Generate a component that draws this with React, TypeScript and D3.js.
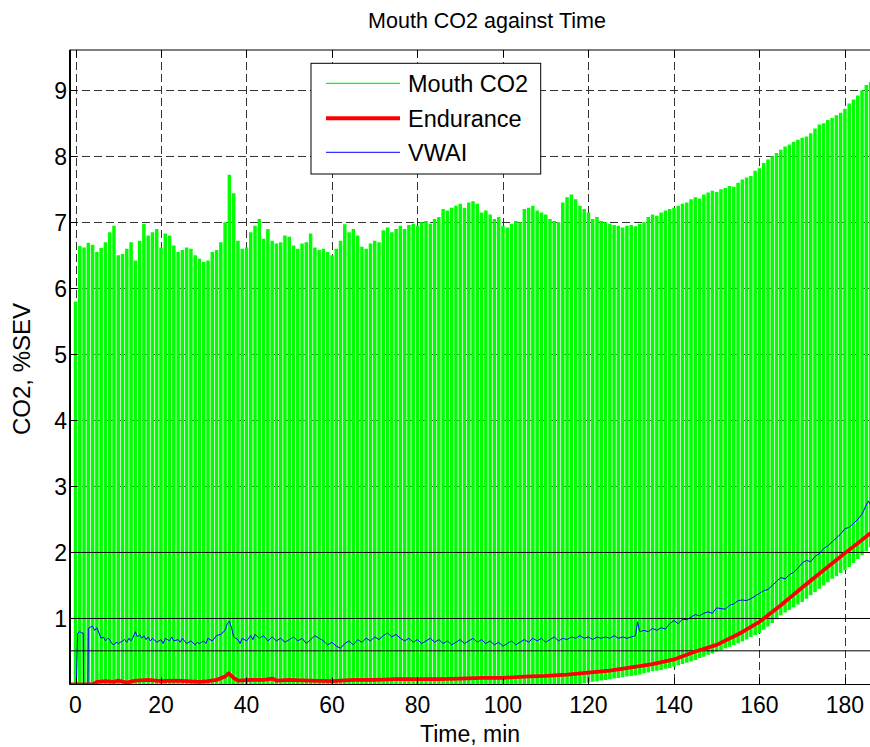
import React from "react";
import * as d3 from "d3";

// ---- chart data ----
const titleText = "Mouth CO2 against Time";
const xLabel = "Time, min";
const yLabel = "CO2, %SEV";
const xTicks = [0, 20, 40, 60, 80, 100, 120, 140, 160, 180];
const yTicks = [1, 2, 3, 4, 5, 6, 7, 8, 9];
const refLines = [0.51, 1, 2];
const seriesNames = ["Mouth CO2", "Endurance", "VWAI"];
const seriesColors = ["#00ff00", "#ff0000", "#0000ff"];

// Mouth CO2: breath peak and trough per minute, t = 0..186 min
const co2StartMin = 0;
const co2Peaks = [
  5.8, 6.64, 6.62, 6.69, 6.66, 6.55, 6.61, 6.7, 6.85, 6.95,
  6.5, 6.52, 6.6, 6.7, 6.42, 6.72, 6.98, 6.8, 6.85, 6.9,
  6.62, 6.83, 6.8, 6.65, 6.55, 6.58, 6.62, 6.6, 6.5, 6.45,
  6.4, 6.42, 6.55, 6.58, 6.7, 7.0, 7.72, 7.44, 6.72, 6.6,
  6.62, 6.85, 6.95, 7.05, 6.75, 6.9, 6.72, 6.68, 6.7, 6.8,
  6.78, 6.65, 6.6, 6.68, 6.7, 6.83, 6.62, 6.58, 6.6, 6.55,
  6.5, 6.6, 6.72, 6.97, 6.85, 6.9, 6.8, 6.63, 6.6, 6.68,
  6.72, 6.7, 6.88, 6.92, 6.85, 6.9, 6.95, 6.9, 6.96, 6.98,
  6.95, 7.0, 7.02, 6.98, 7.05, 7.08, 7.2, 7.18, 7.22, 7.25,
  7.28, 7.22, 7.3, 7.32, 7.28, 7.15, 7.18, 7.12, 7.05, 7.08,
  6.95, 6.92, 6.98, 7.02, 7.0, 7.2, 7.22, 7.25, 7.18, 7.15,
  7.12, 7.05, 7.02, 7.0, 7.3, 7.38, 7.42, 7.35, 7.25, 7.2,
  7.15, 7.05, 7.08, 7.02, 7.0, 6.98, 6.96, 6.95, 6.92, 6.95,
  6.96, 6.94, 6.98, 7.0, 7.08, 7.12, 7.1, 7.15, 7.18, 7.2,
  7.22, 7.25, 7.28, 7.3, 7.35, 7.38, 7.36, 7.42, 7.45, 7.48,
  7.46, 7.5, 7.52, 7.55, 7.54, 7.6, 7.65, 7.68, 7.7, 7.78,
  7.82, 7.9, 7.95, 8.0, 8.05, 8.1, 8.15, 8.18, 8.22, 8.25,
  8.28, 8.3, 8.35, 8.42, 8.48, 8.5, 8.55, 8.58, 8.62, 8.66,
  8.72, 8.8, 8.86, 8.92, 9.0, 9.08, 9.12,
];
const co2Troughs = [
  0, 0, 0, 0, 0, 0, 0, 0, 0, 0,
  0, 0, 0, 0, 0, 0, 0, 0, 0, 0,
  0, 0, 0, 0, 0, 0, 0, 0, 0, 0,
  0, 0, 0, 0, 0, 0, 0, 0, 0, 0,
  0, 0, 0, 0, 0, 0, 0, 0, 0, 0,
  0, 0, 0, 0, 0, 0, 0, 0, 0, 0,
  0, 0, 0, 0, 0, 0, 0, 0, 0, 0,
  0, 0, 0, 0, 0, 0, 0, 0, 0, 0,
  0, 0, 0, 0, 0, 0, 0, 0, 0, 0,
  0, 0, 0, 0, 0, 0, 0, 0, 0, 0,
  0, 0, 0, 0, 0, 0, 0, 0, 0, 0,
  0, 0, 0, 0, 0, 0, 0, 0, 0, 0.02,
  0.03, 0.04, 0.05, 0.06, 0.07, 0.08, 0.09, 0.1, 0.11, 0.12,
  0.13, 0.14, 0.15, 0.17, 0.18, 0.2, 0.21, 0.22, 0.24, 0.25,
  0.27, 0.29, 0.31, 0.33, 0.35, 0.37, 0.4, 0.42, 0.45, 0.47,
  0.5, 0.52, 0.55, 0.57, 0.6, 0.62, 0.65, 0.68, 0.72, 0.75,
  0.78, 0.83, 0.88, 0.93, 0.99, 1.05, 1.09, 1.13, 1.17, 1.21,
  1.25, 1.3, 1.35, 1.4, 1.45, 1.5, 1.55, 1.6, 1.64, 1.69,
  1.73, 1.78, 1.84, 1.9, 1.96, 2.02, 2.08,
];

// Endurance
const enduranceT = [
  -1.3, 4, 5, 7, 9, 10, 12, 14, 17, 20, 23, 26, 29, 31, 33, 35, 35.8, 37, 38,
  41, 44, 46, 47, 50, 55, 60, 65, 70, 75, 80, 85, 90, 95, 100, 105, 110, 115,
  120, 125, 130, 135, 140, 145, 150, 155, 160, 165, 170, 175, 180, 183, 186.1,
];
const enduranceV = [
  0, 0, 0.04, 0.05, 0.04, 0.06, 0.03, 0.06, 0.07, 0.05, 0.06, 0.05, 0.04, 0.05, 0.07, 0.12, 0.17, 0.1, 0.06,
  0.07, 0.07, 0.09, 0.06, 0.07, 0.06, 0.05, 0.07, 0.07, 0.08, 0.08, 0.08, 0.09, 0.1, 0.1, 0.12, 0.13, 0.15,
  0.18, 0.21, 0.26, 0.31, 0.38, 0.5, 0.6, 0.76, 0.95, 1.2, 1.47, 1.73, 1.99, 2.14, 2.3,
];

// VWAI
const vwaiT = [
  -1.3, 0.2, 0.5, 1, 1.5, 1.8, 1.9, 2.9, 3, 3.5, 4, 4.5, 5, 5.5, 6, 6.5, 7, 7.5, 8, 8.5,
  9, 9.5, 10, 11, 11.5, 12, 12.5, 13, 13.5, 14, 14.5, 15, 15.5, 16, 16.5, 17, 17.5, 18, 19, 20,
  20.5, 21, 22, 22.5, 23, 24, 24.5, 25, 26, 27, 28, 28.5, 29, 30, 30.5, 31, 32, 33, 34, 35,
  35.5, 36, 36.5, 37, 38, 38.5, 39, 40, 41, 41.5, 42, 43, 44, 45, 46, 47, 48, 49, 50, 51,
  52, 53, 54, 55, 56, 57, 58, 59, 60, 61, 62, 63, 64, 65, 66, 67, 68, 69, 70, 71,
  72, 73, 74, 75, 76, 77, 78, 79, 80, 81, 82, 83, 84, 85, 86, 87, 88, 89, 90, 91,
  92, 93, 94, 95, 96, 97, 98, 99, 100, 101, 102, 103, 104, 105, 106, 107, 108, 109, 110, 111,
  112, 113, 114, 115, 116, 117, 118, 119, 120, 121, 122, 123, 124, 125, 126, 127, 128, 129, 130, 131,
  131.5, 132, 133, 134, 135, 136, 137, 138, 139, 140, 141, 142, 143, 144, 145, 146, 147, 148, 149, 150,
  151, 152, 153, 154, 155, 156, 157, 158, 159, 160, 161, 162, 163, 164, 165, 166, 167, 168, 169, 170,
  171, 172, 173, 174, 175, 176, 177, 178, 179, 180, 181, 182, 183, 184, 185, 185.5, 186.1,
];
const vwaiV = [
  0, 0, 0.78, 0.8, 0.78, 0.78, 0, 0, 0.85, 0.87, 0.88, 0.82, 0.86, 0.78, 0.7, 0.72, 0.66, 0.7, 0.68, 0.62,
  0.6, 0.64, 0.62, 0.66, 0.68, 0.64, 0.7, 0.66, 0.72, 0.8, 0.72, 0.76, 0.7, 0.74, 0.68, 0.72, 0.66, 0.7, 0.64, 0.68,
  0.62, 0.7, 0.66, 0.72, 0.66, 0.68, 0.64, 0.7, 0.62, 0.66, 0.6, 0.64, 0.62, 0.66, 0.62, 0.7, 0.66, 0.74, 0.76, 0.82,
  0.92, 0.96, 0.86, 0.72, 0.68, 0.62, 0.7, 0.66, 0.74, 0.68, 0.76, 0.7, 0.74, 0.66, 0.72, 0.66, 0.7, 0.64, 0.68, 0.72,
  0.66, 0.7, 0.62, 0.68, 0.74, 0.7, 0.66, 0.6, 0.64, 0.58, 0.55, 0.62, 0.66, 0.6, 0.68, 0.64, 0.7, 0.66, 0.72, 0.68,
  0.74, 0.78, 0.72, 0.76, 0.7, 0.66, 0.7, 0.64, 0.68, 0.62, 0.66, 0.7, 0.64, 0.68, 0.62, 0.66, 0.6, 0.64, 0.68, 0.62,
  0.66, 0.7, 0.64, 0.68, 0.62, 0.66, 0.6, 0.64, 0.58, 0.62, 0.66, 0.6, 0.64, 0.68, 0.64, 0.7, 0.66, 0.7, 0.64, 0.68,
  0.72, 0.66, 0.7, 0.68, 0.72, 0.7, 0.74, 0.7, 0.72, 0.68, 0.72, 0.7, 0.72, 0.7, 0.74, 0.7, 0.72, 0.7, 0.72, 0.74,
  0.95, 0.8, 0.82, 0.8, 0.85, 0.82, 0.86, 0.84, 0.92, 0.97, 0.92, 0.99, 0.98, 1.02, 1.06, 1.04, 1.08, 1.1, 1.08, 1.16,
  1.15, 1.14, 1.2, 1.22, 1.27, 1.28, 1.27, 1.3, 1.34, 1.38, 1.42, 1.44, 1.5, 1.56, 1.62, 1.6, 1.66, 1.7, 1.76, 1.84,
  1.88, 1.86, 1.94, 1.98, 2.06, 2.1, 2.16, 2.22, 2.28, 2.36, 2.38, 2.44, 2.5, 2.58, 2.72, 2.78, 2.7,
];

const FONT = "'Liberation Sans', Arial, Helvetica, sans-serif";

export default function App() {
  const W = 870;
  const H = 747;
  const L = 70, R = 871, T = 50, B = 684.5;
  const x = d3.scaleLinear().domain([-1.29, 186.1]).range([L, R]);
  const y = d3.scaleLinear().domain([0, 9.61]).range([B, T]);
  const line = d3
    .line<[number, number]>()
    .x((d) => x(d[0]))
    .y((d) => y(d[1]));

  const endurance: [number, number][] = enduranceT.map((t, i) => [t, enduranceV[i]]);
  const vwai: [number, number][] = vwaiT.map((t, i) => [t, vwaiV[i]]);
  const tickLen = 7;
  const gridColor = "#333";

  const legend = { x: 311, y: 63.3, w: 229.7, h: 110.7 };
  const legendRows = [83.3, 118.3, 152.3];
  const legendWidths = [1.2, 4, 1];

  return (
    <svg
      width={W}
      height={H}
      style={{ position: "absolute", left: 0, top: 0, display: "block" }}
      fontFamily={FONT}
    >
      <defs>
        <clipPath id="plotArea">
          <rect x={L} y={T} width={R - L} height={B - T} />
        </clipPath>
      </defs>
      <rect x={0} y={0} width={W} height={H} fill="#fff" />

      {/* grid */}
      <g stroke={gridColor} strokeWidth={1} strokeDasharray="8 4">
        {xTicks.map((t) => (
          <line key={"gx" + t} x1={Math.round(x(t)) + 0.5} x2={Math.round(x(t)) + 0.5} y1={T} y2={B} />
        ))}
        {yTicks.map((v) => (
          <line key={"gy" + v} x1={L} x2={R} y1={Math.round(y(v)) + 0.5} y2={Math.round(y(v)) + 0.5} />
        ))}
      </g>

      <g clipPath="url(#plotArea)">
        {/* Mouth CO2 breaths */}
        <g stroke={seriesColors[0]} strokeWidth={3.5}>
          {co2Peaks.map((p, i) => (
            <line
              key={"c" + i}
              x1={x(co2StartMin + i)}
              x2={x(co2StartMin + i)}
              y1={y(co2Troughs[i])}
              y2={y(p)}
            />
          ))}
        </g>
        {/* reference lines */}
        <g stroke="#000" strokeWidth={1}>
          {refLines.map((v) => (
            <line key={"r" + v} x1={L} x2={R} y1={y(v)} y2={y(v)} />
          ))}
        </g>
        <path d={line(endurance) || ""} fill="none" stroke={seriesColors[1]} strokeWidth={3.8} strokeLinejoin="round" />
        <path d={line(vwai) || ""} fill="none" stroke={seriesColors[2]} strokeWidth={1} />
      </g>

      {/* axes box */}
      <rect x={L} y={T} width={R - L} height={B - T} fill="none" stroke="#000" strokeWidth={1} />
      <line x1={L} x2={L} y1={T} y2={B} stroke="#000" strokeWidth={2} />

      {/* ticks */}
      <g stroke="#000" strokeWidth={1}>
        {xTicks.map((t) => (
          <g key={"tx" + t}>
            <line x1={Math.round(x(t)) + 0.5} x2={Math.round(x(t)) + 0.5} y1={B} y2={B - tickLen} />
            <line x1={Math.round(x(t)) + 0.5} x2={Math.round(x(t)) + 0.5} y1={T} y2={T + tickLen} />
          </g>
        ))}
        {yTicks.map((v) => (
          <line key={"ty" + v} x1={L} x2={L + tickLen} y1={Math.round(y(v)) + 0.5} y2={Math.round(y(v)) + 0.5} />
        ))}
      </g>

      {/* tick labels */}
      <g fontSize={23} fill="#000">
        {xTicks.map((t) => (
          <text key={"lx" + t} x={x(t)} y={713} textAnchor="middle">
            {t}
          </text>
        ))}
        {yTicks.map((v) => (
          <text key={"ly" + v} x={L - 3} y={y(v) + 8.3} textAnchor="end">
            {v}
          </text>
        ))}
      </g>

      {/* title & axis labels */}
      <text x={487} y={28} fontSize={21.5} textAnchor="middle" fill="#000">
        {titleText}
      </text>
      <text x={470} y={742} fontSize={23} textAnchor="middle" fill="#000">
        {xLabel}
      </text>
      <text
        transform={`translate(30,369) rotate(-90)`}
        fontSize={24}
        textAnchor="middle"
        fill="#000"
      >
        {yLabel}
      </text>

      {/* legend */}
      <rect x={legend.x} y={legend.y} width={legend.w} height={legend.h} fill="#fff" stroke="#000" strokeWidth={1} />
      {seriesNames.map((name, i) => (
        <g key={"lg" + i}>
          <line
            x1={326}
            x2={400}
            y1={legendRows[i]}
            y2={legendRows[i]}
            stroke={seriesColors[i]}
            strokeWidth={legendWidths[i]}
          />
          <text x={408} y={legendRows[i] + 8.3} fontSize={23.5} fill="#000">
            {name}
          </text>
        </g>
      ))}
    </svg>
  );
}
